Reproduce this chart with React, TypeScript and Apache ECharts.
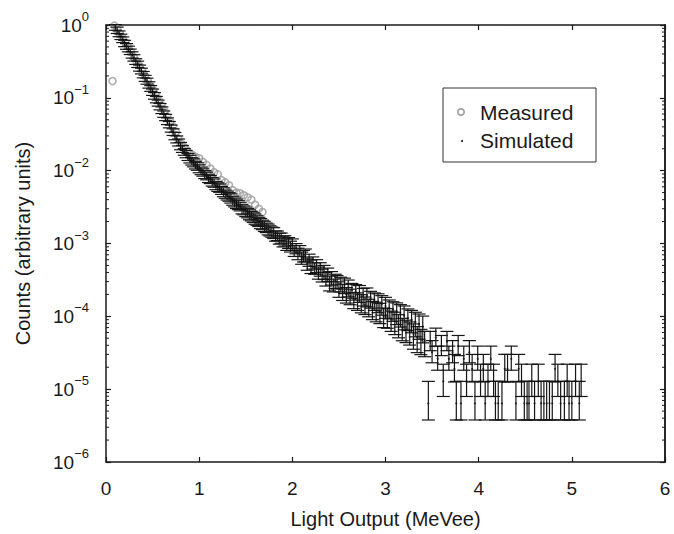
import React, { useEffect, useRef } from 'react';
import * as echarts from 'echarts';

// ---- Measured (grey open circles) ----
const measuredX = [
  0.07, 0.09, 0.12, 0.15, 0.18, 0.21, 0.24, 0.27, 0.30, 0.33,
  0.36, 0.39, 0.42, 0.45, 0.48, 0.51, 0.54, 0.57, 0.60, 0.63,
  0.66, 0.69, 0.72, 0.75, 0.78, 0.81, 0.84, 0.87, 0.90, 0.93,
  0.96, 1.00, 1.04, 1.08, 1.12, 1.16, 1.20, 1.24, 1.28, 1.32,
  1.36, 1.40, 1.44, 1.48, 1.52, 1.56, 1.60, 1.64, 1.68,
];
const measuredY = [
  0.17, 0.98, 0.87, 0.76, 0.66, 0.575, 0.50, 0.43, 0.36, 0.315,
  0.275, 0.235, 0.20, 0.17, 0.145, 0.126, 0.107, 0.091, 0.078, 0.066,
  0.055, 0.047, 0.040, 0.034, 0.027, 0.0235, 0.021, 0.019, 0.0172, 0.0163,
  0.0155, 0.0148, 0.0132, 0.012, 0.0107, 0.0095, 0.0089, 0.0074, 0.0069, 0.0063,
  0.0054, 0.0050, 0.0049, 0.0046, 0.0043, 0.0040, 0.0034, 0.0030, 0.0027,
];

// ---- Simulated (black dots with error bars) ----
const simX = [
  0.10, 0.12, 0.14, 0.16, 0.18, 0.20, 0.22, 0.24, 0.26, 0.28,
  0.30, 0.32, 0.34, 0.36, 0.38, 0.40, 0.42, 0.44, 0.46, 0.48,
  0.50, 0.52, 0.54, 0.56, 0.58, 0.60, 0.62, 0.64, 0.66, 0.68,
  0.70, 0.72, 0.74, 0.76, 0.78, 0.80, 0.82, 0.84, 0.86, 0.88,
  0.90, 0.92, 0.94, 0.96, 0.98, 1.00, 1.02, 1.04, 1.06, 1.08,
  1.10, 1.12, 1.14, 1.16, 1.18, 1.20, 1.22, 1.24, 1.26, 1.28,
  1.30, 1.32, 1.34, 1.36, 1.38, 1.40, 1.42, 1.44, 1.46, 1.48,
  1.50, 1.52, 1.54, 1.56, 1.58, 1.60, 1.62, 1.64, 1.66, 1.68,
  1.70, 1.72, 1.74, 1.76, 1.78, 1.80, 1.82, 1.84, 1.86, 1.88,
  1.90, 1.92, 1.94, 1.96, 1.98, 2.00, 2.02, 2.04, 2.06, 2.08,
  2.10, 2.12, 2.14, 2.16, 2.18, 2.20, 2.22, 2.24, 2.26, 2.28,
  2.30, 2.32, 2.34, 2.36, 2.38, 2.40, 2.42, 2.44, 2.46, 2.48,
  2.50, 2.52, 2.54, 2.56, 2.58, 2.60, 2.62, 2.64, 2.66, 2.68,
  2.70, 2.72, 2.74, 2.76, 2.78, 2.80, 2.82, 2.84, 2.86, 2.88,
  2.90, 2.92, 2.94, 2.96, 2.98, 3.00, 3.02, 3.04, 3.06, 3.08,
  3.10, 3.12, 3.14, 3.16, 3.18, 3.20, 3.22, 3.24, 3.26, 3.28,
  3.30, 3.32, 3.34, 3.36, 3.38, 3.40, 3.42,
  3.46, 3.48, 3.50, 3.54, 3.56, 3.60, 3.62, 3.66, 3.68, 3.72,
  3.74, 3.76, 3.78, 3.81, 3.84, 3.87, 3.90, 3.93, 3.96, 3.99,
  4.02, 4.05, 4.07, 4.10, 4.13, 4.16, 4.18, 4.21, 4.25, 4.28,
  4.31, 4.35, 4.40, 4.43, 4.46, 4.49, 4.52, 4.54, 4.57, 4.60,
  4.64, 4.67, 4.70, 4.73, 4.76, 4.79, 4.82, 4.85, 4.88, 4.92,
  4.95, 4.97, 5.00, 5.04, 5.08, 5.10,
];
const simY = [
  0.93, 0.85, 0.76, 0.69, 0.63, 0.56, 0.51, 0.47, 0.43, 0.39,
  0.355, 0.316, 0.29, 0.257, 0.234, 0.209, 0.186, 0.17, 0.151, 0.135,
  0.12, 0.107, 0.095, 0.085, 0.076, 0.068, 0.060, 0.054, 0.048, 0.043,
  0.038, 0.034, 0.030, 0.027, 0.0245, 0.0219, 0.020, 0.0182, 0.017, 0.0155,
  0.0145, 0.0135, 0.0129, 0.012, 0.0115, 0.0107, 0.0100, 0.0095, 0.0089, 0.0085,
  0.0079, 0.0076, 0.0071, 0.0068, 0.0063, 0.0060, 0.0058, 0.0054, 0.0051, 0.0048,
  0.0046, 0.0044, 0.0042, 0.0039, 0.0037, 0.00355, 0.0034, 0.00324, 0.0030, 0.00288,
  0.00275, 0.00263, 0.00251, 0.0024, 0.00229, 0.00219, 0.00209, 0.0020, 0.0019, 0.00182,
  0.00174, 0.00166, 0.00158, 0.00151, 0.00145, 0.00141, 0.00128, 0.00129, 0.00118, 0.0012,
  0.00108, 0.0011, 0.00098, 0.00103, 0.00092, 0.00098, 0.00080, 0.00086, 0.00073, 0.00080,
  0.00064, 0.00068, 0.00070, 0.00053, 0.00060, 0.00049, 0.00055, 0.00046, 0.00050, 0.00040,
  0.00045, 0.00037, 0.00041, 0.00033, 0.00038, 0.00029, 0.00034, 0.00027, 0.00031, 0.00030,
  0.00024, 0.00028, 0.00022, 0.00027, 0.00020, 0.00025, 0.00019, 0.00023, 0.00017, 0.00022,
  0.000165, 0.00021, 0.000155, 0.00019, 0.000145, 0.00019, 0.000135, 0.000175, 0.000125, 0.000165,
  0.00012, 0.000158, 0.000115, 0.000148, 0.000100, 0.000138, 0.000098, 0.000130, 0.000090, 0.000122,
  0.000085, 0.000115, 0.000078, 0.000108, 0.000070, 0.000102, 0.000066, 0.000095, 0.000062, 0.000090,
  0.000057, 0.000083, 0.000052, 0.000078, 0.000048, 0.000072, 0.000045,
  6.4e-6, 4.5e-5, 3.2e-5, 5.1e-5, 2.6e-5, 3.9e-5, 1.28e-5, 4.5e-5, 2.6e-5, 3.2e-5,
  1.9e-5, 6.4e-6, 3.9e-5, 6.4e-6, 2.6e-5, 1.28e-5, 3.2e-5, 1.9e-5, 6.4e-6, 2.6e-5,
  1.28e-5, 1.9e-5, 6.4e-6, 1.28e-5, 2.6e-5, 1.28e-5, 6.4e-6, 6.4e-6, 6.4e-6, 1.9e-5,
  1.9e-5, 2.6e-5, 6.4e-6, 1.9e-5, 1.28e-5, 6.4e-6, 6.4e-6, 6.4e-6, 1.28e-5, 6.4e-6,
  1.28e-5, 6.4e-6, 6.4e-6, 6.4e-6, 6.4e-6, 6.4e-6, 1.9e-5, 1.28e-5, 6.4e-6, 6.4e-6,
  1.28e-5, 6.4e-6, 6.4e-6, 1.28e-5, 6.4e-6, 1.28e-5,
];
// relative (symmetric) error of the well-populated bins, x = 0.10 ... 3.42
const denseRelErr = [
  0.09, 0.10, 0.09, 0.085, 0.09, 0.10, 0.09, 0.09, 0.085, 0.10,
  0.10, 0.09, 0.10, 0.095, 0.09, 0.10, 0.095, 0.095, 0.10, 0.09,
  0.10, 0.105, 0.10, 0.095, 0.10, 0.105, 0.10, 0.10, 0.105, 0.10,
  0.11, 0.105, 0.115, 0.11, 0.11, 0.115, 0.11, 0.105, 0.115, 0.11,
  0.12, 0.115, 0.125, 0.12, 0.12, 0.125, 0.12, 0.115, 0.125, 0.12,
  0.13, 0.125, 0.135, 0.13, 0.13, 0.135, 0.13, 0.125, 0.14, 0.13,
  0.14, 0.135, 0.145, 0.14, 0.14, 0.145, 0.14, 0.135, 0.15, 0.14,
  0.15, 0.145, 0.155, 0.15, 0.15, 0.16, 0.15, 0.145, 0.16, 0.15,
  0.16, 0.15, 0.17, 0.16, 0.16, 0.17, 0.16, 0.15, 0.17, 0.16,
  0.17, 0.16, 0.18, 0.17, 0.17, 0.18, 0.17, 0.16, 0.18, 0.17,
  0.19, 0.18, 0.20, 0.19, 0.19, 0.21, 0.19, 0.18, 0.20, 0.19,
  0.21, 0.20, 0.22, 0.21, 0.21, 0.23, 0.21, 0.20, 0.22, 0.21,
  0.24, 0.23, 0.25, 0.24, 0.24, 0.26, 0.24, 0.23, 0.25, 0.24,
  0.27, 0.26, 0.28, 0.27, 0.27, 0.29, 0.27, 0.26, 0.28, 0.27,
  0.30, 0.29, 0.31, 0.30, 0.30, 0.32, 0.30, 0.29, 0.31, 0.30,
  0.34, 0.33, 0.35, 0.34, 0.34, 0.36, 0.34, 0.33, 0.35, 0.34,
  0.38, 0.37, 0.39, 0.38, 0.38, 0.40, 0.38,
];
// relative error below / above the sparse bins, x = 3.46 ... 5.10
const tailErrLow = [
  0.41, 0.25, 0.28, 0.24, 0.3, 0.26, 0.38, 0.25, 0.3, 0.28,
  0.34, 0.41, 0.26, 0.41, 0.3, 0.38, 0.28, 0.34, 0.41, 0.3,
  0.38, 0.34, 0.41, 0.38, 0.3, 0.38, 0.41, 0.41, 0.41, 0.34,
  0.34, 0.3, 0.41, 0.34, 0.38, 0.41, 0.41, 0.41, 0.38, 0.41,
  0.38, 0.41, 0.41, 0.41, 0.41, 0.41, 0.34, 0.38, 0.41, 0.41,
  0.38, 0.41, 0.41, 0.38, 0.41, 0.38,
];
const tailErrHigh = [
  1.0, 0.38, 0.45, 0.35, 0.5, 0.4, 0.72, 0.38, 0.5, 0.45,
  0.58, 1.0, 0.4, 1.0, 0.5, 0.72, 0.45, 0.58, 1.0, 0.5,
  0.72, 0.58, 1.0, 0.72, 0.5, 0.72, 1.0, 1.0, 1.0, 0.58,
  0.58, 0.5, 1.0, 0.58, 0.72, 1.0, 1.0, 1.0, 0.72, 1.0,
  0.72, 1.0, 1.0, 1.0, 1.0, 1.0, 0.58, 0.72, 1.0, 1.0,
  0.72, 1.0, 1.0, 0.72, 1.0, 0.72,
];
const simErrLow = [...denseRelErr, ...tailErrLow];
const simErrHigh = [...denseRelErr, ...tailErrHigh];

const xTicks = [0, 1, 2, 3, 4, 5, 6];
const yMinExp = -6;
const yMaxExp = 0;

const FONT = "'Liberation Sans', Arial, Helvetica, sans-serif";
const INK = '#1a1a1a';

export default function App() {
  const ref = useRef<HTMLDivElement>(null);

  useEffect(() => {
    const chart = echarts.init(ref.current as HTMLDivElement, null, { renderer: 'svg' });

    const measured = measuredX.map((x, i) => [x, measuredY[i]]);
    const sim = simX.map((x, i) => [x, simY[i]]);
    const bars = simX.map((x, i) => [x, simY[i] * (1 - simErrLow[i]), simY[i] * (1 + simErrHigh[i])]);

    const mkLine = () => ({ show: true, onZero: false, lineStyle: { color: INK, width: 1.5 } });
    const mkTick = () => ({ show: true, inside: true, length: 5, lineStyle: { color: INK, width: 1.2 } });

    const option: any = {
      animation: false,
      backgroundColor: '#ffffff',
      textStyle: { fontFamily: FONT },
      grid: { left: 106, top: 25, width: 559, height: 438, containLabel: false },
      xAxis: [
        {
          type: 'value',
          min: xTicks[0],
          max: xTicks[xTicks.length - 1],
          interval: 1,
          axisLine: mkLine(),
          axisTick: mkTick(),
          splitLine: { show: false },
          axisLabel: { fontSize: 19, color: INK, margin: 17, fontFamily: FONT },
          name: 'Light Output (MeVee)',
          nameLocation: 'middle',
          nameGap: 47,
          nameTextStyle: { fontSize: 20, color: INK, fontFamily: FONT },
        },
        {
          type: 'value',
          position: 'top',
          min: xTicks[0],
          max: xTicks[xTicks.length - 1],
          interval: 1,
          axisLine: mkLine(),
          axisTick: mkTick(),
          axisLabel: { show: false },
          splitLine: { show: false },
        },
      ],
      yAxis: [
        {
          type: 'log',
          logBase: 10,
          min: Math.pow(10, yMinExp),
          max: Math.pow(10, yMaxExp),
          splitNumber: yMaxExp - yMinExp,
          axisLine: mkLine(),
          axisTick: mkTick(),
          splitLine: { show: false },
          axisLabel: {
            margin: 17,
            formatter: (v: number) => {
              const e = Math.round(Math.log10(v));
              return '{b|10}{s|' + (e < 0 ? '\u2212' + Math.abs(e) : String(e)) + '}';
            },
            rich: {
              b: { fontSize: 19, color: INK, fontFamily: FONT, lineHeight: 30, verticalAlign: 'middle' },
              s: { fontSize: 13, color: INK, fontFamily: FONT, verticalAlign: 'top' },
            },
          },
          name: 'Counts (arbitrary units)',
          nameLocation: 'middle',
          nameGap: 73,
          nameTextStyle: { fontSize: 20, color: INK, fontFamily: FONT },
        },
        {
          // right frame: decade exponents on a linear scale land on the same pixels as the log decades
          type: 'value',
          position: 'right',
          min: yMinExp,
          max: yMaxExp,
          interval: 1,
          axisLine: mkLine(),
          axisTick: mkTick(),
          axisLabel: { show: false },
          splitLine: { show: false },
        },
      ],
      series: [
        {
          name: 'Measured',
          type: 'scatter',
          data: measured,
          symbol: 'circle',
          symbolSize: 7,
          itemStyle: { color: 'rgba(0,0,0,0)', borderColor: '#9a9a9a', borderWidth: 1.6 },
          z: 2,
        },
        {
          name: 'Simulated error',
          type: 'custom',
          data: bars,
          encode: { x: 0, y: [1, 2] },
          z: 3,
          renderItem: (params: any, api: any) => {
            const x = api.value(0);
            const pLo = api.coord([x, api.value(1)]);
            const pHi = api.coord([x, api.value(2)]);
            const w = 6.5;
            const style = { stroke: '#151515', lineWidth: 1.2 };
            return {
              type: 'group',
              children: [
                { type: 'line', shape: { x1: pLo[0], y1: pLo[1], x2: pHi[0], y2: pHi[1] }, style },
                { type: 'line', shape: { x1: pLo[0] - w, y1: pLo[1], x2: pLo[0] + w, y2: pLo[1] }, style },
                { type: 'line', shape: { x1: pHi[0] - w, y1: pHi[1], x2: pHi[0] + w, y2: pHi[1] }, style },
              ],
            };
          },
        },
        {
          name: 'Simulated',
          type: 'scatter',
          data: sim,
          symbol: 'circle',
          symbolSize: 2,
          itemStyle: { color: '#111' },
          z: 4,
        },
      ],
    };

    chart.setOption(option);

    // true logarithmic minor ticks (2..9 in each decade) on left and right, plus the right frame line
    const xl = chart.convertToPixel({ xAxisIndex: 0 }, xTicks[0]) as number;
    const xr = chart.convertToPixel({ xAxisIndex: 0 }, xTicks[xTicks.length - 1]) as number;
    const yTop = chart.convertToPixel({ yAxisIndex: 0 }, Math.pow(10, yMaxExp)) as number;
    const yBot = chart.convertToPixel({ yAxisIndex: 0 }, Math.pow(10, yMinExp)) as number;
    const frame: any[] = [
      {
        type: 'rect',
        shape: { x: xr - 0.75, y: yTop - 0.75, width: 1.5, height: yBot - yTop + 1.5 },
        style: { fill: INK },
        silent: true,
        z: 50,
      },
    ];
    for (let e = yMinExp; e < yMaxExp; e++) {
      for (let k = 2; k <= 9; k++) {
        const py = chart.convertToPixel({ yAxisIndex: 0 }, k * Math.pow(10, e)) as number;
        frame.push({ type: 'line', shape: { x1: xl, y1: py, x2: xl + 3, y2: py }, style: { stroke: INK, lineWidth: 1 }, silent: true });
        frame.push({ type: 'line', shape: { x1: xr - 3, y1: py, x2: xr, y2: py }, style: { stroke: INK, lineWidth: 1 }, silent: true });
      }
    }

    const legend = {
      type: 'group',
      z: 100,
      children: [
        { type: 'rect', shape: { x: 443, y: 88, width: 153, height: 74 }, style: { fill: '#fff', stroke: '#333', lineWidth: 1 } },
        { type: 'circle', shape: { cx: 461, cy: 112, r: 3.2 }, style: { fill: 'none', stroke: '#9a9a9a', lineWidth: 1.6 } },
        { type: 'text', x: 480, y: 112, style: { text: 'Measured', fontSize: 21, fontFamily: FONT, fill: INK, verticalAlign: 'middle' } },
        { type: 'circle', shape: { cx: 462, cy: 141, r: 1 }, style: { fill: '#111' } },
        { type: 'text', x: 480, y: 140, style: { text: 'Simulated', fontSize: 21, fontFamily: FONT, fill: INK, verticalAlign: 'middle' } },
      ],
    };

    chart.setOption({ graphic: [...frame, legend] });

    return () => chart.dispose();
  }, []);

  return <div ref={ref} style={{ position: 'absolute', left: 0, top: 0, width: 674, height: 534 }} />;
}
